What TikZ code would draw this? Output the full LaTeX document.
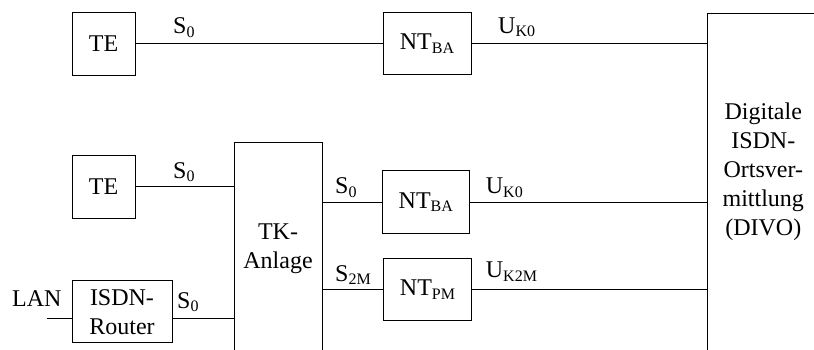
\documentclass[tikz,border=0pt]{standalone}
\usepackage{fontspec}
\setmainfont{Liberation Serif}
\newcommand\lsub[1]{\raisebox{-3.5pt}{\fontsize{16}{16}\selectfont #1}}
\begin{document}
\begin{tikzpicture}[x=1pt,y=-1pt,
  every node/.style={font=\fontsize{24}{29}\selectfont},
  box/.style={draw, line width=1pt, rectangle, inner sep=0pt, align=center},
  link/.style={line width=1pt},
  lbl/.style={anchor=base west, inner sep=0pt},
  txt/.style={align=center, inner sep=0pt}]
\useasboundingbox (0,0) rectangle (814,349);
\clip (0,0) rectangle (814,349);
% boxes
\node[box, minimum width=63pt, minimum height=63pt] (te1) at (103.5,43.5) {TE};
\node[box, minimum width=88pt, minimum height=62pt] (nt1) at (427,43.5) {NT\lsub{BA}};
\node[box, anchor=north west, minimum width=200pt, minimum height=400pt] (divo) at (707.3,12.7) {};
\node[txt] (divotext) at (763.3,171.5) {Digitale\\ISDN-\\Ortsver-\\mittlung\\(DIVO)};
\node[box, minimum width=63pt, minimum height=63pt] (te2) at (103.5,186.5) {TE};
\node[box, anchor=north west, minimum width=87.4pt, minimum height=300pt] (tk) at (234.3,141.7) {};
\node[txt] (tktext) at (278,248.5) {TK-\\Anlage};
\node[box, minimum width=87pt, minimum height=62.5pt] (nt2) at (425.8,202) {NT\lsub{BA}};
\node[box, minimum width=88pt, minimum height=62pt] (ntpm) at (427.5,289.5) {NT\lsub{PM}};
\node[box, minimum width=100pt, minimum height=62pt] (router) at (122,311.7) {ISDN-\\Router};
\coordinate (lanend) at (46.7,318.3);
% connectors
\draw[link] (te1.east) -- (nt1.west);
\draw[link] (nt1.east) -- (nt1.east -| divo.west);
\draw[link] (te2.east) -- (te2.east -| tk.west);
\draw[link] (nt2.west -| tk.east) -- (nt2.west);
\draw[link] (nt2.east) -- (nt2.east -| divo.west);
\draw[link] (ntpm.west -| tk.east) -- (ntpm.west);
\draw[link] (ntpm.east) -- (ntpm.east -| divo.west);
\draw[link] (lanend) -- (lanend -| router.west);
\draw[link] (lanend -| router.east) -- (lanend -| tk.west);
% labels
\node[lbl] (l1) at (173,33.5) {S\lsub{0}};
\node[lbl] (l2) at (498,33.3) {U\lsub{K0}};
\node[lbl] (l3) at (173,178.3) {S\lsub{0}};
\node[lbl] (l4) at (335,193.5) {S\lsub{0}};
\node[lbl] (l5) at (485.7,193.5) {U\lsub{K0}};
\node[lbl] (l6) at (335,281) {S\lsub{2M}};
\node[lbl] (l7) at (485.7,277.7) {U\lsub{K2M}};
\node[lbl] (l8) at (12,306.7) {LAN};
\node[lbl] (l9) at (177,308) {S\lsub{0}};
\end{tikzpicture}
\end{document}
